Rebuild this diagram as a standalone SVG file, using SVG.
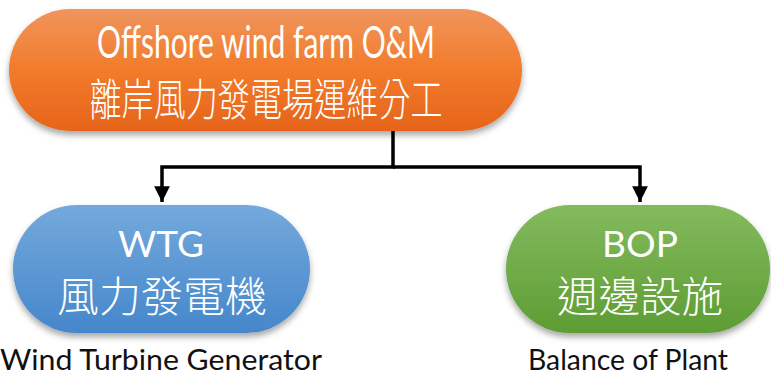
<svg xmlns="http://www.w3.org/2000/svg" width="771" height="376" viewBox="0 0 771 376">
<style>
.t{fill:#fff;font-family:Lato,"Noto Sans CJK TC",sans-serif;font-weight:400;text-anchor:middle}
.c{fill:#fff;font-family:"Noto Sans CJK TC","Noto Sans CJK SC",sans-serif;font-weight:300;text-anchor:middle}
.lab{fill:#111;font-family:Lato,"Open Sans",sans-serif;font-size:28px}
.conn{fill:none;stroke:#000;stroke-width:3.5}
</style>
<defs>
<linearGradient id="gO" x1="0" y1="0" x2="0" y2="1"><stop offset="0" stop-color="#f0955d"/><stop offset="0.5" stop-color="#f27b2b"/><stop offset="1" stop-color="#e6641b"/></linearGradient>
<linearGradient id="gB" x1="0" y1="0" x2="0" y2="1"><stop offset="0" stop-color="#74a9dc"/><stop offset="1" stop-color="#4587cb"/></linearGradient>
<linearGradient id="gG" x1="0" y1="0" x2="0" y2="1"><stop offset="0" stop-color="#84ba5e"/><stop offset="1" stop-color="#5d9d33"/></linearGradient>
<filter id="sh" x="-10%" y="-10%" width="120%" height="130%"><feDropShadow dx="0" dy="4" stdDeviation="3" flood-color="#000" flood-opacity="0.35"/></filter>
<marker id="ah" viewBox="0 0 10 10" refX="10" refY="5" markerWidth="4.5" markerHeight="4.5" orient="auto" markerUnits="strokeWidth"><path d="M0,0 L10,5 L0,10 z" fill="#000"/></marker>
</defs>
<g id="connectors">
<path class="conn" d="M393,131 V167 H162 V202" marker-end="url(#ah)"/>
<path class="conn" d="M393,167 H640 V202" marker-end="url(#ah)"/>
</g>
<g id="root">
<rect x="9" y="9" width="513" height="122" rx="61" fill="url(#gO)" filter="url(#sh)"/>
<text class="t" x="266" y="58" font-size="44" textLength="338" lengthAdjust="spacingAndGlyphs">Offshore wind farm O&amp;M</text>
<text class="c" x="266" y="116" font-size="44" textLength="353" lengthAdjust="spacingAndGlyphs">離岸風力發電場運維分工</text>
</g>
<g id="wtg">
<rect x="13" y="205" width="297" height="128" rx="64" fill="url(#gB)" filter="url(#sh)"/>
<text class="t" x="161" y="257" font-size="37">WTG</text>
<text class="c" x="162" y="312" font-size="42" textLength="210" lengthAdjust="spacingAndGlyphs">風力發電機</text>
<text class="lab" x="0" y="370" textLength="322" lengthAdjust="spacingAndGlyphs">Wind Turbine Generator</text>
</g>
<g id="bop">
<rect x="506" y="205" width="264" height="128" rx="64" fill="url(#gG)" filter="url(#sh)"/>
<text class="t" x="640" y="257" font-size="37">BOP</text>
<text class="c" x="640" y="312" font-size="42" textLength="166" lengthAdjust="spacingAndGlyphs">週邊設施</text>
<text class="lab" x="528" y="370" textLength="200" lengthAdjust="spacingAndGlyphs">Balance of Plant</text>
</g>
</svg>
